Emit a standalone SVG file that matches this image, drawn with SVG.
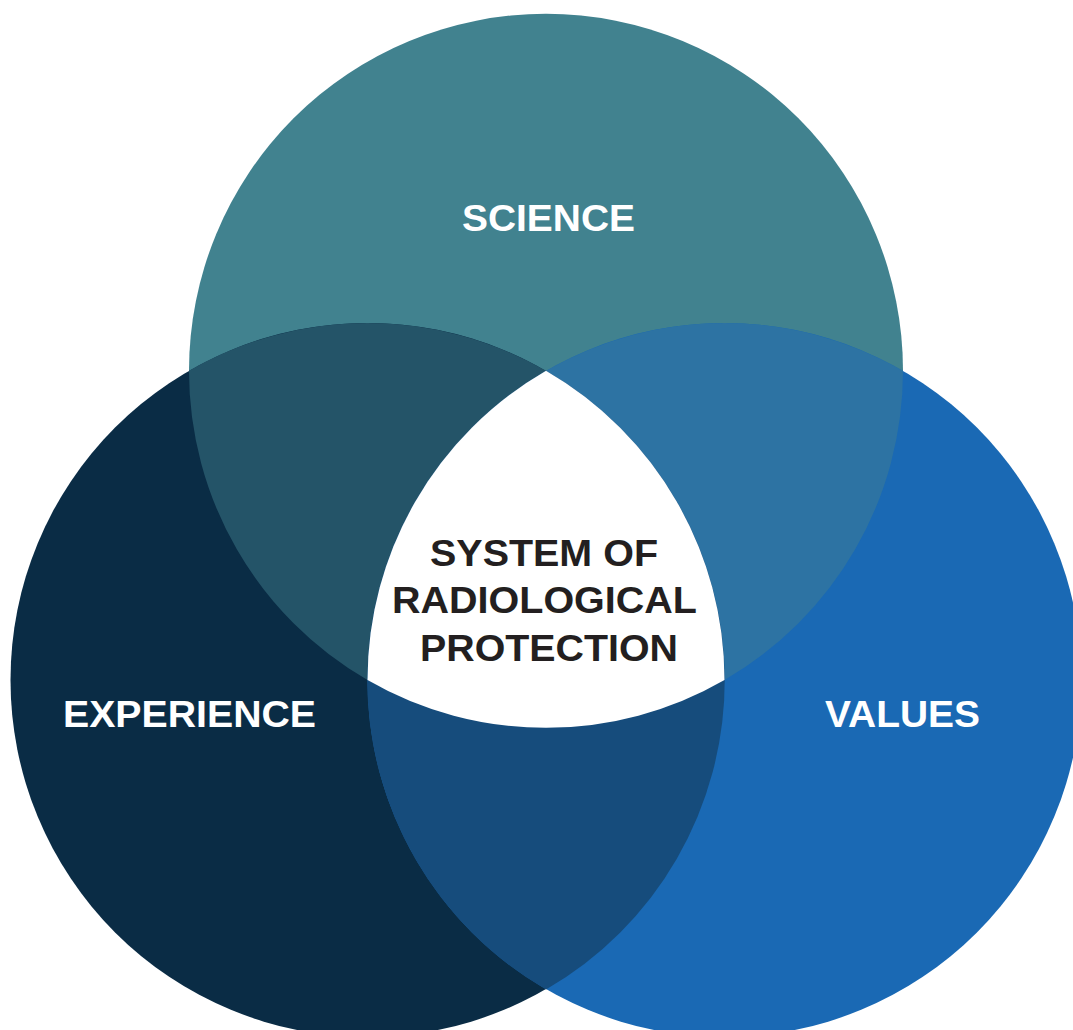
<svg xmlns="http://www.w3.org/2000/svg" width="1073" height="1030" viewBox="0 0 1073 1030">
<style>
.lbl{font-family:"Liberation Sans",Arial,sans-serif;font-weight:bold;font-size:37px;fill:#ffffff}
.ctr{font-family:"Liberation Sans",Arial,sans-serif;font-weight:bold;font-size:37px;fill:#231f20}
</style>
<rect width="1073" height="1030" fill="#ffffff"/>
<g id="science"><circle cx="546" cy="370.8" r="357" fill="#41828f"/></g>
<g id="experience"><circle cx="367.5" cy="680" r="357" fill="#0a2c45"/></g>
<g id="values"><circle cx="724.5" cy="680" r="357" fill="#1a69b4"/></g>
<g id="science-experience"><path d="M189,370.8 A357,357 0 0 1 724.5,680 A357,357 0 0 1 189,370.8 Z" fill="#245468"/></g>
<g id="science-values"><path d="M903,370.8 A357,357 0 0 1 367.5,680 A357,357 0 0 1 903,370.8 Z" fill="#2d73a3"/></g>
<g id="experience-values"><path d="M546,370.8 A357,357 0 0 1 546,989.4 A357,357 0 0 1 546,370.8 Z" fill="#164c7c"/></g>
<g id="center"><path d="M546,370.8 A357,357 0 0 1 724.5,680 A357,357 0 0 1 367.5,680 A357,357 0 0 1 546,370.8 Z" fill="#ffffff"/></g>
<g id="labels">
<text class="lbl" x="462" y="231" textLength="173" lengthAdjust="spacingAndGlyphs">SCIENCE</text>
<text class="lbl" x="63" y="727" textLength="253" lengthAdjust="spacingAndGlyphs">EXPERIENCE</text>
<text class="lbl" x="825" y="727" textLength="155" lengthAdjust="spacingAndGlyphs">VALUES</text>
<text class="ctr" x="430" y="566" textLength="228" lengthAdjust="spacingAndGlyphs">SYSTEM OF</text>
<text class="ctr" x="392" y="613" textLength="305" lengthAdjust="spacingAndGlyphs">RADIOLOGICAL</text>
<text class="ctr" x="420" y="661" textLength="258" lengthAdjust="spacingAndGlyphs">PROTECTION</text>
</g>
</svg>
